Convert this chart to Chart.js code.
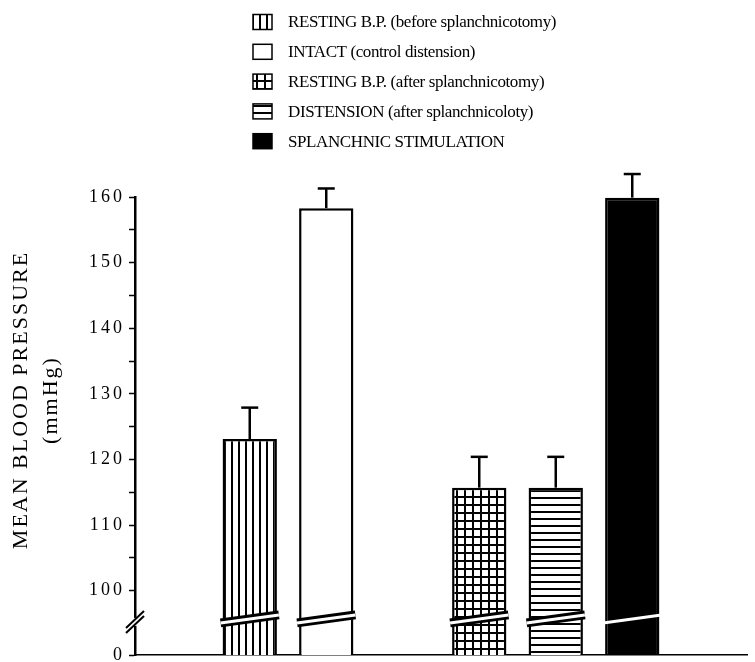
<!DOCTYPE html>
<html>
<head>
<meta charset="utf-8">
<script src="https://cdn.jsdelivr.net/npm/chart.js@4.4.0/dist/chart.umd.min.js"></script>
<style>
  html, body { margin: 0; padding: 0; background: #fff; }
  #wrap { width: 755px; height: 662px; position: relative; }
</style>
</head>
<body>
<div id="wrap"><canvas id="myChart"></canvas></div>
<script>
// empty categories are the spacing between the two groups
var categories = ['', 'RESTING B.P. (before splanchnicotomy)', 'INTACT (control distension)', '',
  'RESTING B.P. (after splanchnicotomy)', 'DISTENSION (after splanchnicoloty)', 'SPLANCHNIC STIMULATION', '']
var meanPressure = [null, 123.1, 158.3, null, 115.7, 115.7, 159.9, null]
var sem = [null, 4.8, 3.0, null, 4.7, 4.7, 3.6, null]
var yTickLabels = [100, 110, 120, 130, 140, 150, 160]
var axisBottom = 90.2   // bottom of the broken axis, labelled 0
var axisBreak = 95.7
var fills = [null, 'vstripe', 'white', null, 'grid', 'hstripe', 'black', null]

var canvas = document.getElementById('myChart')
var mainCtx = canvas.getContext('2d')

function makeFill(kind) {
  if (kind === 'white' || kind == null) return '#fff'
  if (kind === 'black') return '#000'
  var n = kind === 'grid' ? 8 : 7
  var c = document.createElement('canvas')
  c.width = n; c.height = n
  var g = c.getContext('2d')
  g.fillStyle = '#fff'; g.fillRect(0, 0, n, n)
  g.fillStyle = '#000'
  if (kind === 'vstripe') g.fillRect(0, 0, 2, n)
  if (kind === 'hstripe') g.fillRect(0, 0, n, 2)
  if (kind === 'grid') { g.fillRect(0, 0, 2, n); g.fillRect(0, 0, n, 2) }
  return mainCtx.createPattern(c, 'repeat')
}
var fillStyles = fills.map(makeFill)

function line(ctx, x1, y1, x2, y2) {
  ctx.beginPath(); ctx.moveTo(x1, y1); ctx.lineTo(x2, y2); ctx.stroke()
}

var extras = {
  id: 'extras',
  beforeDraw: function(chart) {
    chart.ctx.letterSpacing = '3px'
  },
  afterDatasetsDraw: function(chart) {
    var ctx = chart.ctx
    var y = chart.scales.y
    var meta = chart.getDatasetMeta(0)
    var yb = y.getPixelForValue(axisBreak)
    ctx.save()
    meta.data.forEach(function(bar, i) {
      if (meanPressure[i] == null) return
      var l = bar.x - bar.width / 2 - 2, r = bar.x + bar.width / 2 + 2
      if (fills[i] !== 'black') {
        ctx.strokeStyle = '#000'; ctx.lineWidth = 9
        line(ctx, l, yb + 4, r, yb - 4)
      }
      ctx.strokeStyle = '#fff'; ctx.lineWidth = 3
      line(ctx, l, yb + 4, r, yb - 4)
      // error bar
      var top = y.getPixelForValue(meanPressure[i] + sem[i])
      ctx.strokeStyle = '#000'; ctx.lineWidth = 2.5
      line(ctx, bar.x, bar.y, bar.x, top)
      line(ctx, bar.x - 8.5, top, bar.x + 8.5, top)
    })
    // break on the y axis
    var ax = chart.chartArea.left, ay = yb + 3
    ctx.fillStyle = '#fff'
    ctx.fillRect(ax - 3, ay - 4, 6, 8)
    ctx.strokeStyle = '#000'; ctx.lineWidth = 2
    line(ctx, ax - 9, ay + 2.5 + 8.5, ax + 9, ay + 2.5 - 8.5)
    line(ctx, ax - 9, ay - 2.5 + 8.5, ax + 9, ay - 2.5 - 8.5)
    ctx.restore()
  },
  afterDraw: function(chart) {
    var ctx = chart.ctx
    ctx.save()
    ctx.letterSpacing = '2px'
    ctx.fillStyle = '#000'
    ctx.font = '22px "Liberation Serif"'
    ctx.textAlign = 'center'
    ctx.textBaseline = 'middle'
    ctx.translate(21, 400)
    ctx.rotate(-Math.PI / 2)
    ctx.fillText('MEAN BLOOD PRESSURE', 0, 0)
    ctx.fillText('(mmHg)', 0, 30)
    ctx.restore()

    // legend, one row per bar
    ctx.save()
    ctx.letterSpacing = '-0.4px'
    ctx.font = '17px "Liberation Serif"'
    ctx.textBaseline = 'middle'
    ctx.textAlign = 'left'
    var row = 0
    categories.forEach(function(name, i) {
      if (!name) return
      var cy = 22 + row * 29.8
      ctx.fillStyle = fillStyles[i]
      ctx.fillRect(253, cy - 7.5, 19, 15)
      ctx.strokeStyle = '#000'; ctx.lineWidth = 1.5
      ctx.strokeRect(253, cy - 7.5, 19, 15)
      ctx.fillStyle = '#000'
      ctx.fillText(name, 288, cy + 1)
      row++
    })
    ctx.restore()
    ctx.letterSpacing = '0px'
  }
}

var chart = new Chart(canvas, {
  type: 'bar',
  data: {
    labels: categories,
    datasets: [{
      label: 'Mean blood pressure',
      data: meanPressure,
      backgroundColor: fillStyles,
      borderColor: '#000',
      borderWidth: 2.5,
      barPercentage: 0.71,
      categoryPercentage: 1
    }]
  },
  options: {
    responsive: true,
    maintainAspectRatio: false,
    animation: false,
    layout: { padding: { top: 197, right: 8, bottom: 7, left: 0 } },
    plugins: { legend: { display: false }, tooltip: { enabled: false } },
    scales: {
      x: {
        ticks: { display: false },
        grid: { display: false, drawTicks: false },
        border: { display: true, color: '#000', width: 1.5 }
      },
      y: {
        min: axisBottom,
        max: 160,
        afterBuildTicks: function(s) {
          var t = [axisBottom]
          yTickLabels.forEach(function(v, k) {
            t.push(v)
            if (k < yTickLabels.length - 1) t.push(v + 5)
          })
          s.ticks = t.map(function(v) { return { value: v } })
        },
        afterFit: function(s) { s.width = 135; s.paddingTop = 0; s.paddingBottom = 0 },
        ticks: {
          autoSkip: false,
          padding: 4,
          color: '#000',
          font: { family: 'Liberation Serif', size: 18 },
          callback: function(v) {
            if (v === axisBottom) return '0'
            return yTickLabels.indexOf(v) >= 0 ? String(v) : ''
          }
        },
        grid: { drawOnChartArea: false, drawTicks: true, tickLength: 6, tickColor: '#000', tickWidth: 1.5 },
        border: { display: true, color: '#000', width: 2.5 }
      }
    }
  },
  plugins: [extras]
})
</script>
</body>
</html>
